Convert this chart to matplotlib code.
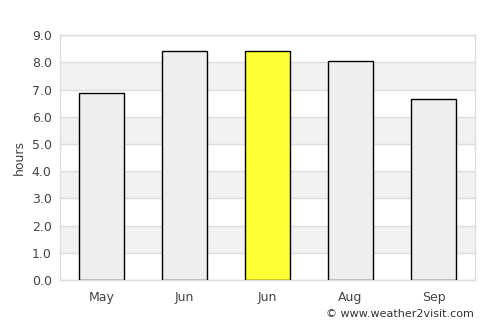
import matplotlib
matplotlib.use("Agg")
import matplotlib.pyplot as plt

months = ["May", "Jun", "Jun", "Aug", "Sep"]
hours = [6.86, 8.41, 8.41, 8.04, 6.64]
colors = ["#eeeeee", "#eeeeee", "#ffff33", "#eeeeee", "#eeeeee"]
yticks = [0, 1, 2, 3, 4, 5, 6, 7, 8, 9]

fig = plt.figure(figsize=(5, 3.25), dpi=100)
ax = fig.add_axes([0.12, 0.138, 0.83, 0.754])

for i in range(0, 9):
    if i % 2 == 1:
        ax.axhspan(i, i + 1, color="#f2f2f2", zorder=0, lw=0)
for t in yticks:
    ax.axhline(t, color="#dddddd", lw=1, zorder=1)

x = list(range(len(months)))
ax.bar(x, hours, width=0.54, color=colors, edgecolor="black", linewidth=1, zorder=3)

ax.set_xlim(-0.5, len(months) - 0.5)
ax.set_ylim(0, 9)
ax.set_xticks(x)
ax.set_xticklabels(months)
ax.set_yticks(yticks)
ax.set_yticklabels([f"{t:.1f}" for t in yticks])
ax.tick_params(length=0, labelsize=9, colors="#444444", pad=6)
ax.tick_params(axis="x", pad=8)
for s in ax.spines.values():
    s.set_color("#dddddd")
    s.set_linewidth(1)
ax.set_ylabel("hours", fontsize=9, color="#444444", labelpad=4)

fig.text(0.948, 0.035, "© www.weather2visit.com", ha="right", va="center", fontsize=8, color="#333333")

fig.savefig("out.png", dpi=100)
